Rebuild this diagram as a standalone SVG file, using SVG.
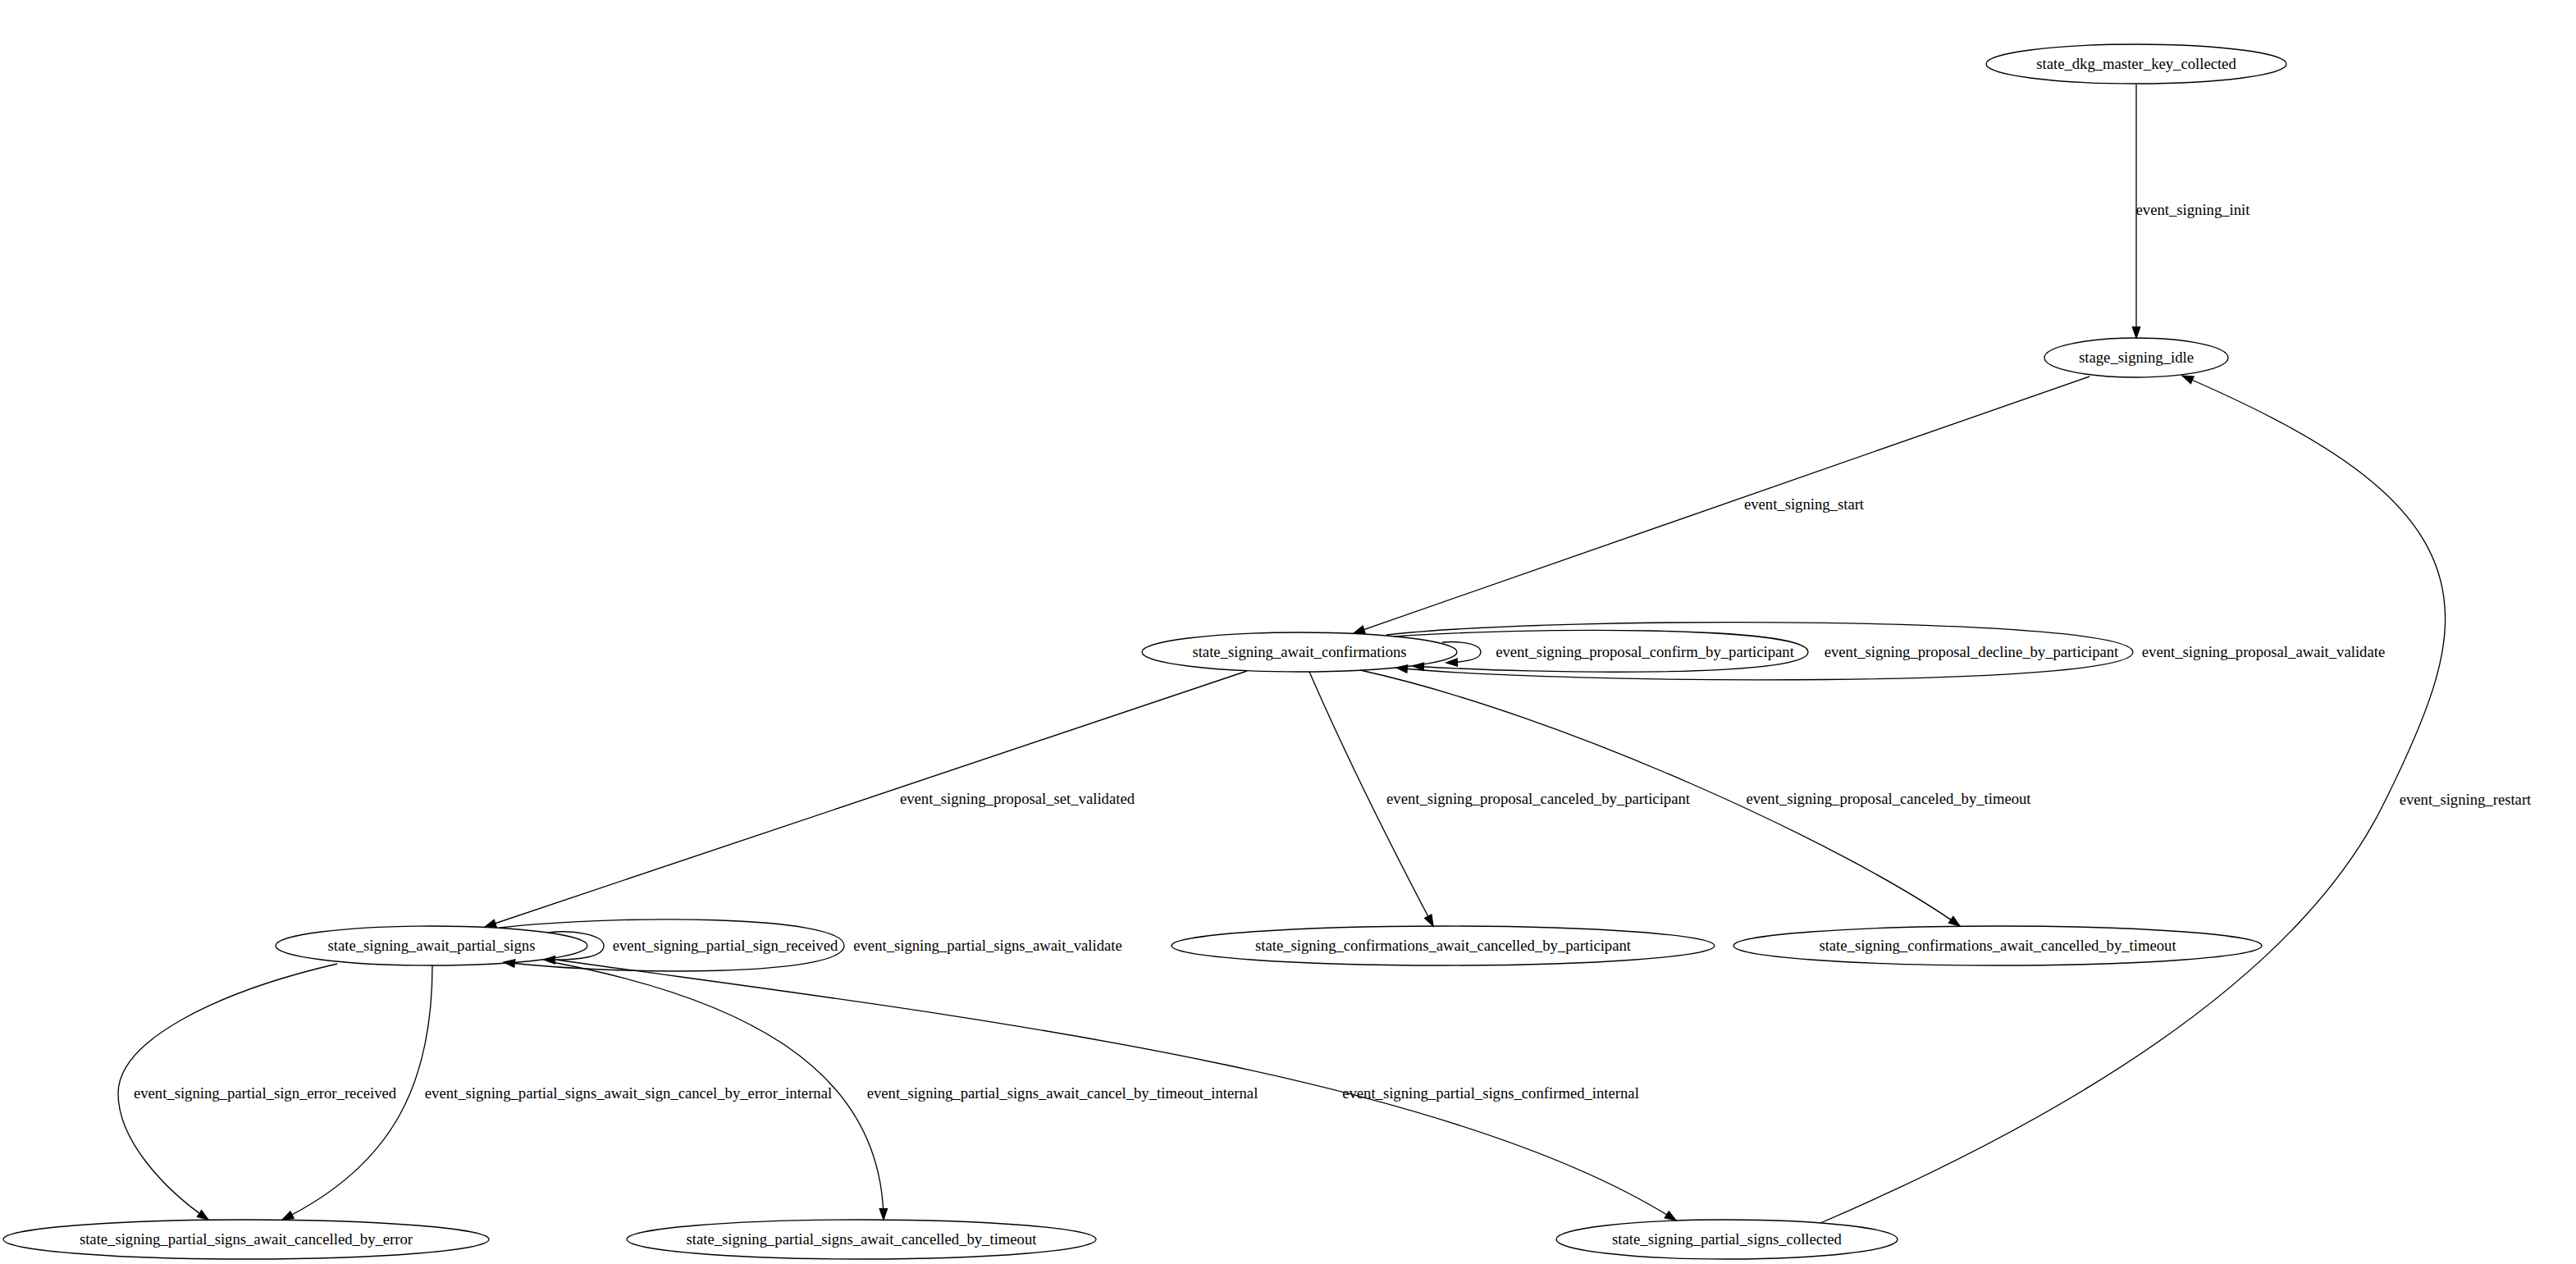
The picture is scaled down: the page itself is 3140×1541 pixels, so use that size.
<svg xmlns="http://www.w3.org/2000/svg" width="3140" height="1541" viewBox="0 0 3140 1541">
<style>
.n ellipse{fill:none;stroke:#000;stroke-width:1.33}
text{font-family:"Liberation Serif","Times New Roman",serif;font-size:18.67px;fill:#000;text-anchor:middle}
.e path{fill:none;stroke:#000;stroke-width:1.33;marker-end:url(#ah)}
</style>
<defs>
<marker id="ah" markerUnits="userSpaceOnUse" markerWidth="16" markerHeight="12" refX="13.33" refY="4.67" orient="auto" overflow="visible">
<path d="M0,0 L13.33,4.67 L0,9.33 z" fill="#000" stroke="#000" stroke-width="1.33"/>
</marker>
</defs>
<rect width="3140" height="1541" fill="#fff"/>
<g id="edges" class="e">
<path d="M2604,103 L2604,412"/>
<path d="M2547,459 L1650,772"/>
<path d="M1758,783 C1785,781 1805,786 1805,795 C1805,803 1790,807 1763,808"/>
<path d="M1700,776 C1850,765 2204,762 2204,795 C2204,826 1880,822 1722,812"/>
<path d="M1690,774 C1900,750 2600,752 2600,795 C2600,838 1900,835 1702,814"/>
<path d="M1520,818 L591,1130"/>
<path d="M1596,819 C1640,920 1700,1040 1747,1129"/>
<path d="M1658,817 C1900,870 2250,1030 2389,1129"/>
<path d="M668,1137 C700,1133 736,1140 736,1153 C736,1166 710,1171 663,1170"/>
<path d="M609,1131 C750,1115 1029,1115 1029,1153 C1029,1190 760,1190 614,1173"/>
<path d="M411,1175 C260,1210 144,1270 144,1333 C144,1390 200,1450 254,1487"/>
<path d="M527,1177 C527,1320 480,1420 344,1487"/>
<path d="M668,1172 C900,1215 1075,1300 1077,1487"/>
<path d="M678,1170 C1100,1230 1750,1300 2043,1488"/>
<path d="M2219,1491 C2500,1370 2800,1200 2908,975 C2960,870 2985,800 2980,740 C2972,620 2850,540 2660,458"/>
</g>
<g id="edge-labels">
<text x="2673" y="262">event_signing_init</text>
<text x="2199" y="621">event_signing_start</text>
<text x="2005" y="801">event_signing_proposal_confirm_by_participant</text>
<text x="2403" y="801">event_signing_proposal_decline_by_participant</text>
<text x="2759" y="801">event_signing_proposal_await_validate</text>
<text x="1240" y="980">event_signing_proposal_set_validated</text>
<text x="1875" y="980">event_signing_proposal_canceled_by_participant</text>
<text x="2302" y="980">event_signing_proposal_canceled_by_timeout</text>
<text x="3005" y="981">event_signing_restart</text>
<text x="884" y="1159">event_signing_partial_sign_received</text>
<text x="1204" y="1159">event_signing_partial_signs_await_validate</text>
<text x="323" y="1339">event_signing_partial_sign_error_received</text>
<text x="766" y="1339">event_signing_partial_signs_await_sign_cancel_by_error_internal</text>
<text x="1295" y="1339">event_signing_partial_signs_await_cancel_by_timeout_internal</text>
<text x="1817" y="1339">event_signing_partial_signs_confirmed_internal</text>
</g>
<g id="state_dkg_master_key_collected" class="n"><ellipse cx="2604" cy="78" rx="183" ry="24"/><text x="2604" y="84">state_dkg_master_key_collected</text></g>
<g id="stage_signing_idle" class="n"><ellipse cx="2604" cy="436" rx="112" ry="24"/><text x="2604" y="442">stage_signing_idle</text></g>
<g id="state_signing_await_confirmations" class="n"><ellipse cx="1584" cy="795" rx="192" ry="24"/><text x="1584" y="801">state_signing_await_confirmations</text></g>
<g id="state_signing_await_partial_signs" class="n"><ellipse cx="526" cy="1153" rx="190" ry="24"/><text x="526" y="1159">state_signing_await_partial_signs</text></g>
<g id="state_signing_confirmations_await_cancelled_by_participant" class="n"><ellipse cx="1759" cy="1153" rx="331" ry="24"/><text x="1759" y="1159">state_signing_confirmations_await_cancelled_by_participant</text></g>
<g id="state_signing_confirmations_await_cancelled_by_timeout" class="n"><ellipse cx="2435" cy="1153" rx="322" ry="24"/><text x="2435" y="1159">state_signing_confirmations_await_cancelled_by_timeout</text></g>
<g id="state_signing_partial_signs_await_cancelled_by_error" class="n"><ellipse cx="300" cy="1511" rx="296" ry="24"/><text x="300" y="1517">state_signing_partial_signs_await_cancelled_by_error</text></g>
<g id="state_signing_partial_signs_await_cancelled_by_timeout" class="n"><ellipse cx="1050" cy="1511" rx="286" ry="24"/><text x="1050" y="1517">state_signing_partial_signs_await_cancelled_by_timeout</text></g>
<g id="state_signing_partial_signs_collected" class="n"><ellipse cx="2105" cy="1511" rx="208" ry="24"/><text x="2105" y="1517">state_signing_partial_signs_collected</text></g>
</svg>
